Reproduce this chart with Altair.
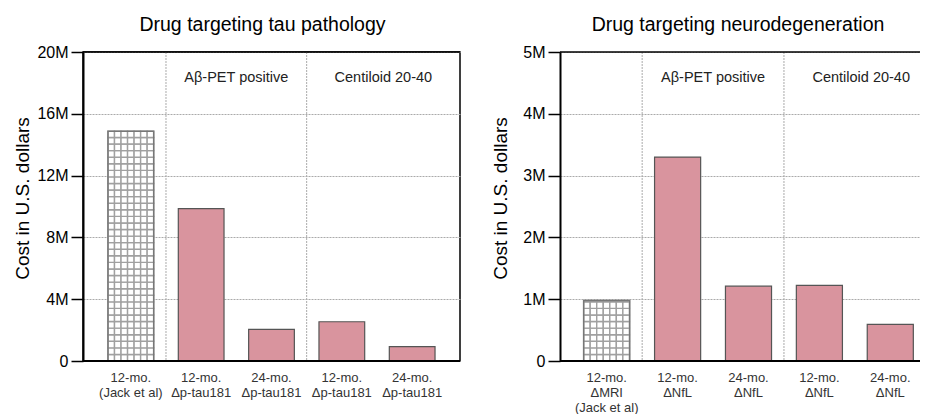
import altair as alt
import pandas as pd

FONT = "Liberation Sans"
PINK = "#d9949e"

# ---- data: left panel (tau pathology) ----
tau_groups = ["12-mo.|(Jack et al)", "12-mo.|Δp-tau181", "24-mo.|Δp-tau181",
              "12-mo.|Δp-tau181", "24-mo.|Δp-tau181"]
tau_cost = [14.87e6, 9.86e6, 2.05e6, 2.54e6, 0.93e6]
tau_hatched = [True, False, False, False, False]
tau_ticks = [0, 4e6, 8e6, 12e6, 16e6, 20e6]

# ---- data: right panel (neurodegeneration) ----
neuro_groups = ["12-mo.|ΔMRI|(Jack et al)", "12-mo.|ΔNfL", "24-mo.|ΔNfL",
                "12-mo.|ΔNfL", "24-mo.|ΔNfL"]
neuro_cost = [0.98e6, 3.30e6, 1.21e6, 1.225e6, 0.594e6]
neuro_hatched = [True, False, False, False, False]
neuro_ticks = [0, 1e6, 2e6, 3e6, 4e6, 5e6]

# ---- annotations (in band-position units: 1..5 = bar centres) ----
sep_positions = [1.5, 3.5]
ann_text = ["Aβ-PET positive", "Centiloid 20-40"]
ann_start = [1.5, 3.5]
ann_end = [3.5, 5.68]


def panel(groups, costs, hatched, ticks, title, width, pad_outer, align,
          dom, label_padding, title_dx, ytitle_pad, framed):
    ymax = ticks[-1]
    cell = ymax / 47.0
    keys = [f"{i}|{g}" for i, g in enumerate(groups)]
    df = pd.DataFrame({"key": keys, "cost": costs, "hatched": hatched})
    base = alt.Chart(df)
    x = alt.X("key:N", sort=keys,
              scale=alt.Scale(paddingInner=0.35, paddingOuter=pad_outer, align=align),
              axis=alt.Axis(title=None, labelExpr="slice(split(datum.label, '|'), 1)",
                            labelAngle=0, ticks=False, domain=False,
                            labelFont=FONT, labelFontSize=13, labelColor="#333",
                            labelLineHeight=15, labelPadding=label_padding,
                            labelBaseline="top", grid=False))
    yscale = alt.Scale(domain=[0, ymax], nice=False, zero=True)
    yaxis = alt.Axis(title="Cost in U.S. dollars", values=ticks,
                     labelExpr="datum.value == 0 ? '0' : format(datum.value / 1e6, 'd') + 'M'",
                     grid=True, gridDash=[2, 1], gridColor="#aaa", gridWidth=1,
                     tickSize=12, tickColor="black", tickWidth=1.5,
                     domainColor="black", domainWidth=2,
                     labelFont=FONT, labelFontSize=16, labelColor="black", labelPadding=3,
                     titleFont=FONT, titleFontSize=19, titleFontWeight="normal",
                     titleColor="black", titlePadding=ytitle_pad, titleY=146)
    y = alt.Y("cost:Q", scale=yscale, axis=yaxis)

    bars = base.transform_filter("!datum.hatched").mark_bar(
        color=PINK, stroke="#555", strokeWidth=1.2).encode(x=x, y=y)

    cells = base.transform_filter("datum.hatched").transform_calculate(
        row=f"sequence(0, ceil(datum.cost / {cell}))"
    ).transform_flatten(["row"]).transform_calculate(
        col="sequence(0, 7)"
    ).transform_flatten(["col"]).transform_calculate(
        y0=f"datum.row * {cell}",
        y1=f"min((datum.row + 1) * {cell}, datum.cost)",
    ).mark_rect(fill="white", stroke="#a0a0a0", strokeWidth=1.4).encode(
        x=x,
        xOffset=alt.XOffset("col:O", scale=alt.Scale(paddingInner=0, paddingOuter=0)),
        y=alt.Y("y0:Q", scale=yscale, axis=yaxis),
        y2="y1:Q",
    )

    outline = base.transform_filter("datum.hatched").mark_bar(
        fillOpacity=0, stroke="#777", strokeWidth=1.5).encode(x=x, y=y)

    # frame lines: bottom (axis line) and top of the plot area, from the y scale
    frame = alt.Chart(pd.DataFrame({"cost": [0, ymax], "w": [2, 1.5]})).mark_rule(
        color="black").encode(y=y, strokeWidth=alt.StrokeWidth("w:Q", scale=None))

    data_layer = alt.layer(bars, cells, outline, frame)

    xdec = alt.Scale(domain=dom, nice=False, zero=False)
    seps = alt.Chart(pd.DataFrame({"pos": sep_positions})).mark_rule(
        color="#aaa", strokeDash=[2, 1], strokeWidth=1).encode(
        x=alt.X("pos:Q", scale=xdec, axis=None))

    ann_df = pd.DataFrame({"text": ann_text, "s": ann_start, "e": ann_end})
    ann = alt.Chart(ann_df).transform_calculate(
        mid="(datum.s + datum.e) / 2").mark_text(
        font=FONT, fontSize=14.5, color="#222", baseline="middle", align="center").encode(
        x=alt.X("mid:Q", scale=xdec, axis=None), y=alt.value(26), text="text:N")

    deco_layer = alt.layer(seps, ann)

    layer = alt.layer(deco_layer, data_layer).resolve_scale(
        x="independent").properties(
        width=width, height=309,
        title=alt.TitleParams(title, font=FONT, fontSize=19.5, fontWeight="normal",
                              color="black", anchor="middle", dx=title_dx, offset=9),
        view=alt.ViewBackground(stroke="black", strokeWidth=1.5) if framed
        else alt.ViewBackground(strokeWidth=0))
    return layer


left = panel(tau_groups, tau_cost, tau_hatched, tau_ticks,
             "Drug targeting tau pathology", 377, 0.355, 0.5, [0.32, 5.68],
             10, -9, 4, True)
right = panel(neuro_groups, neuro_cost, neuro_hatched, neuro_ticks,
              "Drug targeting neurodegeneration", 360, 0.214, 0.78, [0.341, 5.419],
              10, -2, 12, False)

chart = alt.hconcat(left, right, spacing=29).properties(
    padding={"left": 5, "top": 5, "right": 0, "bottom": 0}
).configure(font=FONT).configure_view(stroke=None)

chart.save("out.html", embed_options={"renderer": "svg", "actions": False})
